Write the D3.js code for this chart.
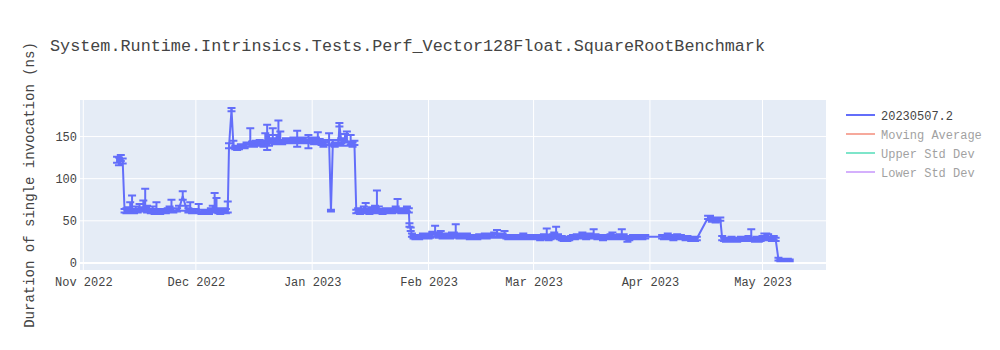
<!DOCTYPE html>
<html>
<head>
<meta charset="utf-8">
<script src="https://cdn.jsdelivr.net/npm/d3@7"></script>
<style>
  body { margin: 0; background: #fff; }
  svg text { font-family: "Courier New", "Liberation Mono", monospace; }
</style>
</head>
<body>
<div id="chart"></div>
<script>
(function () {
  const chartTitle = 'System.Runtime.Intrinsics.Tests.Perf_Vector128Float.SquareRootBenchmark';
  const yTitle = 'Duration of single invocation (ns)';
  const legendNames = ['20230507.2', 'Moving Average', 'Upper Std Dev', 'Lower Std Dev'];
  const legendColors = ['#636efa', '#EF553B', '#00cc96', '#ab63fa'];
  const legendHidden = [false, true, true, true];
  const yTicks = [0, 50, 100, 150];

  // run timestamps (local time, "YYYY-MM-DD HH")
  const runDates = [
    '2022-11-10 00','2022-11-10 12','2022-11-11 00','2022-11-11 12',
    '2022-11-12 00','2022-11-12 12','2022-11-13 00','2022-11-13 12','2022-11-14 00','2022-11-14 12','2022-11-15 00','2022-11-15 12',
    '2022-11-16 00','2022-11-16 12','2022-11-17 00','2022-11-17 12','2022-11-18 00','2022-11-18 12','2022-11-19 00','2022-11-19 12',
    '2022-11-20 00','2022-11-20 12','2022-11-21 00','2022-11-21 12','2022-11-22 00','2022-11-22 12','2022-11-23 00','2022-11-23 12',
    '2022-11-24 00','2022-11-24 12','2022-11-25 00','2022-11-26 00','2022-11-26 12','2022-11-27 12','2022-11-28 12','2022-11-29 00',
    '2022-11-29 12','2022-11-30 00','2022-11-30 12','2022-12-01 00','2022-12-01 18','2022-12-02 12','2022-12-03 00','2022-12-03 12',
    '2022-12-04 00','2022-12-04 12','2022-12-05 00','2022-12-05 12','2022-12-06 00','2022-12-06 12','2022-12-07 00','2022-12-07 12',
    '2022-12-08 00','2022-12-08 12','2022-12-09 00','2022-12-09 12',
    '2022-12-09 20','2022-12-10 12',
    '2022-12-11 00','2022-12-11 12','2022-12-12 00','2022-12-12 12','2022-12-13 00','2022-12-13 12','2022-12-14 00','2022-12-14 12',
    '2022-12-15 12','2022-12-16 00','2022-12-16 12','2022-12-17 00','2022-12-17 12','2022-12-18 00','2022-12-18 12','2022-12-19 00',
    '2022-12-19 12','2022-12-20 00','2022-12-20 12','2022-12-21 00','2022-12-21 12','2022-12-22 00','2022-12-22 12','2022-12-23 00',
    '2022-12-23 12','2022-12-24 00','2022-12-24 12','2022-12-25 00','2022-12-25 12','2022-12-26 00','2022-12-26 12','2022-12-27 00',
    '2022-12-27 12','2022-12-28 00','2022-12-28 12','2022-12-29 00','2022-12-29 12','2022-12-30 00','2022-12-30 12','2022-12-31 00',
    '2022-12-31 12','2023-01-01 00','2023-01-01 12','2023-01-02 00','2023-01-02 12','2023-01-03 00','2023-01-03 12','2023-01-04 00',
    '2023-01-04 12','2023-01-05 12','2023-01-06 00','2023-01-06 12','2023-01-07 00','2023-01-07 12','2023-01-08 00','2023-01-08 06',
    '2023-01-08 18','2023-01-09 06','2023-01-09 18','2023-01-10 06','2023-01-10 18','2023-01-11 06','2023-01-11 18','2023-01-12 06',
    '2023-01-12 18','2023-01-13 06','2023-01-13 18','2023-01-14 06','2023-01-14 18','2023-01-15 06','2023-01-15 18','2023-01-16 06',
    '2023-01-16 18','2023-01-17 06','2023-01-17 18','2023-01-18 06','2023-01-18 18','2023-01-19 06','2023-01-19 18','2023-01-20 06',
    '2023-01-20 18','2023-01-21 06','2023-01-21 18','2023-01-22 06','2023-01-22 18','2023-01-23 06','2023-01-23 18','2023-01-24 06',
    '2023-01-24 18','2023-01-25 06','2023-01-25 18','2023-01-26 06','2023-01-26 18','2023-01-26 22','2023-01-27 06','2023-01-27 14',
    '2023-01-28 00','2023-01-28 12','2023-01-29 00','2023-01-29 12','2023-01-30 00','2023-01-30 12','2023-01-31 00','2023-01-31 12',
    '2023-02-01 00','2023-02-01 12','2023-02-02 00','2023-02-02 18','2023-02-03 06','2023-02-03 18','2023-02-04 06','2023-02-04 18',
    '2023-02-05 06','2023-02-05 18','2023-02-06 06','2023-02-06 18','2023-02-07 06','2023-02-07 18','2023-02-08 06','2023-02-08 18',
    '2023-02-09 06','2023-02-09 18','2023-02-10 06','2023-02-10 18','2023-02-11 06','2023-02-12 00','2023-02-12 12','2023-02-13 00',
    '2023-02-13 12','2023-02-14 00','2023-02-14 12','2023-02-15 00','2023-02-15 12','2023-02-16 00','2023-02-16 12','2023-02-17 00',
    '2023-02-17 12','2023-02-18 00','2023-02-18 12','2023-02-19 06','2023-02-19 18','2023-02-20 06','2023-02-20 18','2023-02-21 06',
    '2023-02-21 18','2023-02-22 06','2023-02-22 18','2023-02-23 06','2023-02-23 18','2023-02-24 06','2023-02-24 18','2023-02-25 06',
    '2023-02-25 18','2023-02-26 06','2023-02-26 18','2023-02-27 06','2023-02-27 18','2023-02-28 06','2023-02-28 18','2023-03-01 06',
    '2023-03-01 18','2023-03-02 06','2023-03-02 18','2023-03-03 06','2023-03-03 18','2023-03-04 06','2023-03-04 12','2023-03-05 00',
    '2023-03-05 12','2023-03-06 00','2023-03-06 12','2023-03-07 00','2023-03-07 12','2023-03-08 00','2023-03-08 12','2023-03-09 00',
    '2023-03-09 12','2023-03-10 00','2023-03-10 12','2023-03-11 00','2023-03-11 12','2023-03-12 00','2023-03-12 12','2023-03-13 00',
    '2023-03-13 12','2023-03-14 00','2023-03-14 12','2023-03-15 00','2023-03-15 12','2023-03-16 00','2023-03-16 12','2023-03-17 00',
    '2023-03-17 12','2023-03-18 00','2023-03-18 12','2023-03-19 00','2023-03-19 12','2023-03-20 00','2023-03-20 12','2023-03-21 00',
    '2023-03-21 12','2023-03-22 00','2023-03-22 12','2023-03-23 00','2023-03-23 12','2023-03-24 00','2023-03-24 12','2023-03-25 00',
    '2023-03-25 12','2023-03-26 00','2023-03-26 12','2023-03-27 00','2023-03-27 12','2023-03-28 00','2023-03-28 12','2023-03-29 00',
    '2023-03-29 12','2023-03-30 00','2023-03-30 18',
    '2023-04-04 06','2023-04-04 18','2023-04-05 06','2023-04-05 18','2023-04-06 06','2023-04-06 18','2023-04-07 06','2023-04-07 18',
    '2023-04-08 06','2023-04-08 18','2023-04-09 06','2023-04-10 00','2023-04-10 12','2023-04-11 00','2023-04-11 12','2023-04-12 00',
    '2023-04-12 12','2023-04-13 00','2023-04-13 12',
    '2023-04-16 12','2023-04-17 00','2023-04-17 12','2023-04-18 00','2023-04-18 12','2023-04-19 00','2023-04-19 18',
    '2023-04-20 06','2023-04-20 18','2023-04-21 06','2023-04-21 18','2023-04-22 06','2023-04-22 18','2023-04-23 06','2023-04-23 18',
    '2023-04-24 06','2023-04-24 18','2023-04-25 06','2023-04-25 18','2023-04-26 06','2023-04-26 18','2023-04-27 06','2023-04-28 00',
    '2023-04-28 12','2023-04-29 00','2023-04-29 12','2023-04-30 00','2023-04-30 12','2023-05-01 00','2023-05-01 12','2023-05-02 00',
    '2023-05-02 12','2023-05-03 00','2023-05-03 12','2023-05-04 00','2023-05-04 12',
    '2023-05-05 06','2023-05-05 18','2023-05-06 06','2023-05-06 18','2023-05-07 06','2023-05-07 18','2023-05-08 06'
  ];

  const runValues = [
    122,120,124,121,
    62,61,63,62,64,61,63,62,
    65,63,66,64,62,63,61,62,
    60,62,61,60,61,62,61,62,
    63,64,62,63,64,79,64,62,
    63,61,62,61,62,60,61,60,
    61,60,62,63,65,64,61,60,
    61,62,61,62,
    138,182,
    140,137,136,137,138,139,138,140,
    145,141,140,142,141,143,142,141,
    144,143,143,145,146,144,147,148,
    146,143,144,145,146,145,144,146,
    145,147,146,144,145,146,144,144,
    146,144,143,145,147,144,142,141,
    143,144,62,142,140,141,143,164,
    145,142,147,146,141,143,140,142,
    61,62,60,61,62,63,61,60,
    62,61,63,64,62,61,60,61,
    62,61,62,61,62,63,64,62,
    61,62,61,63,62,45,40,33,
    31,30,31,30,31,32,31,32,
    31,32,33,34,33,32,33,31,
    32,31,32,31,33,32,35,32,
    31,32,31,32,31,30,31,30,
    31,30,31,32,31,32,31,32,
    33,32,33,34,32,33,32,33,
    31,30,31,30,31,30,31,30,
    31,31,30,31,30,30,31,30,
    31,30,29,30,31,30,33,29,
    30,31,32,35,31,30,29,28,
    29,28,29,30,31,30,31,32,
    31,32,31,30,31,32,31,33,
    31,30,31,30,29,30,31,30,
    31,32,30,31,30,31,33,31,
    30,28,29,30,31,30,31,30,
    31,30,31,
    31,30,31,32,31,30,29,30,
    31,30,31,30,29,30,29,28,
    29,28,29,
    54,53,51,52,50,51,52,
    29,28,27,28,27,28,27,28,
    27,28,29,28,29,28,29,31,
    28,27,28,27,28,29,31,32,
    31,29,28,29,28,
    4,3,4,3,4,4,3
  ];

  // error bar lengths above each value
  const runErrorsPlus = [
    4,5,4,3,
    2,4,3,10,16,3,4,2,
    5,3,8,24,6,4,3,5,
    2,10,3,2,3,2,2,3,
    4,11,3,2,4,6,4,3,
    9,3,2,3,8,3,2,2,
    2,3,3,5,18,13,4,3,
    2,3,3,11,
    4,2,
    5,2,2,2,3,2,3,3,
    15,3,2,3,2,3,2,4,
    10,21,9,3,14,4,5,21,
    10,3,2,3,2,3,2,3,
    4,10,3,3,2,3,2,8,
    3,3,2,4,8,3,2,4,
    3,10,1,4,3,2,3,2,
    3,4,6,10,3,9,3,3,
    2,3,2,3,5,8,3,2,
    4,3,5,22,5,3,2,2,
    3,2,3,2,3,4,12,3,
    2,3,2,4,3,2,2,2,
    2,2,2,3,2,3,2,3,
    2,3,4,10,3,4,5,2,
    3,2,3,2,3,4,11,3,
    2,3,2,3,4,2,2,2,
    2,2,3,2,2,3,2,3,
    2,3,3,5,3,2,3,5,
    2,2,2,2,2,2,2,2,
    2,4,2,2,2,2,2,2,
    2,3,2,2,3,3,8,3,
    2,3,4,8,3,2,3,2,
    2,2,2,2,2,2,3,2,
    3,4,3,2,2,3,3,7,
    3,2,2,2,2,2,2,2,
    3,4,2,2,2,3,7,3,
    2,2,2,2,2,2,2,2,
    2,2,2,
    2,3,2,3,2,2,2,3,
    3,2,2,2,2,2,2,2,
    2,2,2,
    2,3,3,2,3,3,2,
    3,2,2,2,2,3,2,2,
    2,2,2,3,2,2,3,9,
    2,2,3,2,3,3,4,3,
    3,2,2,3,2,
    2,1,1,1,1,1,1
  ];

  // error bar lengths below each value
  const runErrorsMinus = [
    3,4,3,3,
    2,2,2,2,3,2,2,2,
    3,2,4,3,2,2,2,2,
    2,2,2,2,2,2,2,2,
    2,3,2,2,2,4,2,2,
    2,2,2,2,2,2,2,2,
    2,2,2,2,4,3,2,2,
    2,2,2,2,
    2,2,
    3,2,2,2,2,2,2,2,
    4,2,2,2,2,2,2,3,
    3,9,4,3,3,3,3,4,
    4,2,2,2,2,2,2,2,
    3,9,2,2,2,2,2,8,
    2,2,2,3,3,2,2,3,
    3,3,1,3,2,2,2,2,
    3,3,3,3,2,3,2,2,
    2,2,2,2,2,2,2,2,
    2,2,2,3,2,2,2,2,
    2,2,2,2,2,2,3,2,
    2,2,2,2,2,2,2,2,
    2,2,2,2,2,2,2,2,
    2,2,2,3,2,2,2,2,
    2,2,2,2,2,2,3,2,
    2,2,2,2,2,2,2,2,
    2,2,2,2,2,2,2,2,
    2,2,2,3,2,2,2,2,
    2,2,2,2,2,2,2,2,
    2,2,2,2,2,2,2,2,
    2,2,2,2,2,2,3,2,
    2,2,2,3,2,2,2,2,
    2,2,2,2,2,2,2,2,
    2,2,2,2,2,2,2,3,
    2,2,2,2,2,2,2,2,
    2,2,2,2,2,2,3,2,
    2,3,2,2,2,2,2,2,
    2,2,2,
    2,2,2,2,2,2,2,2,
    2,2,2,2,2,2,2,2,
    2,2,2,
    2,2,2,2,2,2,2,
    2,2,2,2,2,2,2,2,
    2,2,2,2,2,2,2,3,
    2,2,2,2,2,2,2,2,
    2,2,2,2,2,
    1,1,1,1,1,1,1
  ];

  const W = 1000, H = 350;
  const plot = { left: 80, right: 826, top: 100, bottom: 270 };
  const traceColor = '#636efa';
  const textColor = '#444';

  const parseTime = d3.timeParse('%Y-%m-%d %H');
  const points = runDates.map((d, i) => ({
    date: parseTime(d),
    value: runValues[i],
    plus: runErrorsPlus[i],
    minus: runErrorsMinus[i],
  }));

  const x = d3.scaleTime()
    .domain([new Date(2022, 9, 31, 3), new Date(2023, 4, 17, 22)])
    .range([plot.left, plot.right]);
  const y = d3.scaleLinear()
    .domain([-8.4, 193.4])
    .range([plot.bottom, plot.top]);

  const svg = d3.select('#chart').append('svg')
    .attr('width', W)
    .attr('height', H)
    .style('display', 'block')
    .style('background', '#fff');

  svg.append('rect')
    .attr('x', plot.left)
    .attr('y', plot.top)
    .attr('width', plot.right - plot.left)
    .attr('height', plot.bottom - plot.top)
    .attr('fill', '#E5ECF6');

  const monthTicks = d3.timeMonth.range(new Date(2022, 10, 1), new Date(2023, 5, 1));

  // grid
  const grid = svg.append('g');
  grid.selectAll('.xgrid')
    .data(monthTicks)
    .join('line')
    .attr('x1', d => x(d)).attr('x2', d => x(d))
    .attr('y1', plot.top).attr('y2', plot.bottom)
    .attr('stroke', '#fff').attr('stroke-width', 1);
  grid.selectAll('.ygrid')
    .data(yTicks)
    .join('line')
    .attr('x1', plot.left).attr('x2', plot.right)
    .attr('y1', d => y(d)).attr('y2', d => y(d))
    .attr('stroke', '#fff')
    .attr('stroke-width', d => (d === 0 ? 2 : 1));

  // axes
  const xAxis = svg.append('g')
    .attr('transform', `translate(0,${plot.bottom})`)
    .call(d3.axisBottom(x).tickValues(monthTicks).tickFormat(d3.timeFormat('%b %Y')).tickSize(0).tickPadding(7));
  const yAxis = svg.append('g')
    .attr('transform', `translate(${plot.left},0)`)
    .call(d3.axisLeft(y).tickValues(yTicks).tickSize(0).tickPadding(3));
  [xAxis, yAxis].forEach(a => {
    a.select('.domain').remove();
    a.selectAll('text')
      .attr('fill', textColor)
      .style('font-size', '12px')
      .style('font-family', '"Courier New", "Liberation Mono", monospace');
  });

  // trace: error bars, then the line
  const clipId = 'plot-clip';
  svg.append('clipPath').attr('id', clipId)
    .append('rect')
    .attr('x', plot.left).attr('y', plot.top)
    .attr('width', plot.right - plot.left).attr('height', plot.bottom - plot.top);

  const traceG = svg.append('g').attr('clip-path', `url(#${clipId})`);

  traceG.append('path')
    .attr('d', points.map(p => {
      const px = x(p.date), hi = y(p.value + p.plus), lo = y(p.value - p.minus);
      return `M${px - 4},${hi}h8M${px},${hi}V${lo}M${px - 4},${lo}h8`;
    }).join(''))
    .attr('fill', 'none')
    .attr('stroke', traceColor)
    .attr('stroke-width', 2);

  traceG.append('path')
    .datum(points)
    .attr('d', d3.line().x(p => x(p.date)).y(p => y(p.value)))
    .attr('fill', 'none')
    .attr('stroke', traceColor)
    .attr('stroke-width', 2)
    .attr('stroke-linejoin', 'round');

  // titles
  svg.append('text')
    .attr('x', 50)
    .attr('y', 51)
    .attr('fill', textColor)
    .style('font-size', '16.8px')
    .text(chartTitle);

  svg.append('text')
    .attr('transform', `translate(34,${(plot.top + plot.bottom) / 2}) rotate(-90)`)
    .attr('text-anchor', 'middle')
    .attr('fill', textColor)
    .style('font-size', '14px')
    .text(yTitle);

  // legend
  const legend = svg.append('g').attr('transform', 'translate(846,115)');
  const item = legend.selectAll('.item')
    .data(legendNames)
    .join('g')
    .attr('transform', (d, i) => `translate(0,${i * 19})`)
    .attr('opacity', (d, i) => (legendHidden[i] ? 0.5 : 1));
  item.append('line')
    .attr('x1', 0).attr('x2', 29)
    .attr('y1', 0).attr('y2', 0)
    .attr('stroke', (d, i) => legendColors[i])
    .attr('stroke-width', 2);
  item.append('text')
    .attr('x', 35)
    .attr('y', 4.5)
    .attr('fill', textColor)
    .style('font-size', '12px')
    .text(d => d);
})();
</script>
</body>
</html>
